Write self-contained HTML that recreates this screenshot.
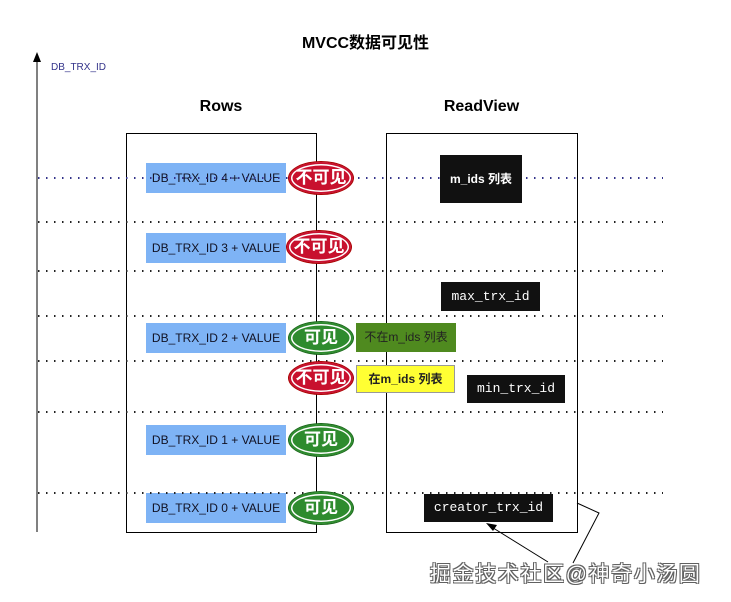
<!DOCTYPE html>
<html><head><meta charset="utf-8"><style>
body{margin:0;width:731px;height:602px;background:#fff;position:relative;overflow:hidden;font-family:"Liberation Sans","Noto Sans CJK SC",sans-serif}
.a{position:absolute}
.blue{position:absolute;left:146px;width:140px;height:30px;background:#7eb3f5;font-size:12px;line-height:30px;text-align:center;color:#112}
.blk{position:absolute;background:#111;color:#fff;font-family:"Liberation Mono","Noto Sans CJK SC",monospace;font-size:13px;text-align:center}
.ell{position:absolute;width:64px;height:32px;border-radius:50%;color:#fff;font-size:17px;font-weight:bold;text-align:center;line-height:32px}
.r{background:#c8102e;box-shadow:inset 0 0 0 2px #c8102e,inset 0 0 0 3.5px #fff;border:1px solid #a00}
.g{background:#2e8b2e;box-shadow:inset 0 0 0 2px #2e8b2e,inset 0 0 0 3.5px #fff;border:1px solid #1a6a1a}
</style></head><body>
<svg class="a" style="left:0;top:0" width="731" height="602">
<g stroke="#000" fill="none">
<line x1="37" y1="58" x2="37" y2="532"/>
<rect x="126.5" y="133.5" width="190" height="399"/>
<rect x="386.5" y="133.5" width="191" height="399"/>
<polyline points="577,503 599,513 573,563"/>
<line x1="548" y1="562" x2="490" y2="526"/>
</g>
<polygon points="37,52 33,62 41,62" fill="#000"/>
<polygon points="486,523 497,525 493,531" fill="#000"/>
</svg>
<div class="a" style="left:0;width:731px;top:29px;text-align:center;font-size:16px;font-weight:bold">MVCC数据可见性</div>
<div class="a" style="left:51px;top:62px;font-size:10px;color:#33338a">DB_TRX_ID</div>
<div class="a" style="left:126px;width:190px;top:98px;text-align:center;font-size:16px;font-weight:bold">Rows</div>
<div class="a" style="left:386px;width:191px;top:98px;text-align:center;font-size:16px;font-weight:bold">ReadView</div>
<div class="blue" style="top:163px">DB_TRX_ID 4 + VALUE</div>
<div class="blue" style="top:233px">DB_TRX_ID 3 + VALUE</div>
<div class="blue" style="top:323px">DB_TRX_ID 2 + VALUE</div>
<div class="blue" style="top:425px">DB_TRX_ID 1 + VALUE</div>
<div class="blue" style="top:493px">DB_TRX_ID 0 + VALUE</div>
<svg class="a" style="left:0;top:0" width="731" height="602">
<g stroke-width="2" stroke-dasharray="1.5,6.5">
<line x1="38" y1="178" x2="663" y2="178" stroke="#33338a"/>
<line x1="38" y1="222" x2="663" y2="222" stroke="#222"/>
<line x1="38" y1="271" x2="663" y2="271" stroke="#222"/>
<line x1="38" y1="316" x2="663" y2="316" stroke="#222"/>
<line x1="38" y1="361" x2="663" y2="361" stroke="#222"/>
<line x1="38" y1="412" x2="663" y2="412" stroke="#222"/>
<line x1="38" y1="493" x2="663" y2="493" stroke="#222"/>
</g>
</svg>
<div class="ell r" style="left:288px;top:161px">不可见</div>
<div class="ell r" style="left:286px;top:230px">不可见</div>
<div class="ell g" style="left:288px;top:321px">可见</div>
<div class="ell r" style="left:288px;top:361px">不可见</div>
<div class="ell g" style="left:288px;top:423px">可见</div>
<div class="ell g" style="left:288px;top:491px">可见</div>
<div class="a" style="left:356px;top:323px;width:100px;height:29px;background:#4f8a1f;font-size:12px;line-height:29px;text-align:center;color:#222">不在m_ids 列表</div>
<div class="a" style="left:356px;top:365px;width:99px;height:28px;background:#ffff33;border:1px solid #999;box-sizing:border-box;font-size:12px;font-weight:bold;line-height:26px;text-align:center;color:#222">在m_ids 列表</div>
<div class="blk" style="left:440px;top:155px;width:82px;height:48px;line-height:48px;font-family:'Liberation Sans','Noto Sans CJK SC',sans-serif;font-size:12px;font-weight:bold">m_ids 列表</div>
<div class="blk" style="left:441px;top:282px;width:99px;height:29px;line-height:29px">max_trx_id</div>
<div class="blk" style="left:467px;top:375px;width:98px;height:28px;line-height:28px">min_trx_id</div>
<div class="blk" style="left:424px;top:494px;width:129px;height:28px;line-height:28px">creator_trx_id</div>
<div class="a" style="left:430px;top:558px;font-size:21px;letter-spacing:1.6px;color:#fff;text-shadow:0 0 1px #444,1px 1px 0 #666,-1px -1px 0 #666,1px -1px 0 #666,-1px 1px 0 #666">掘金技术社区@神奇小汤圆</div>
</body></html>
